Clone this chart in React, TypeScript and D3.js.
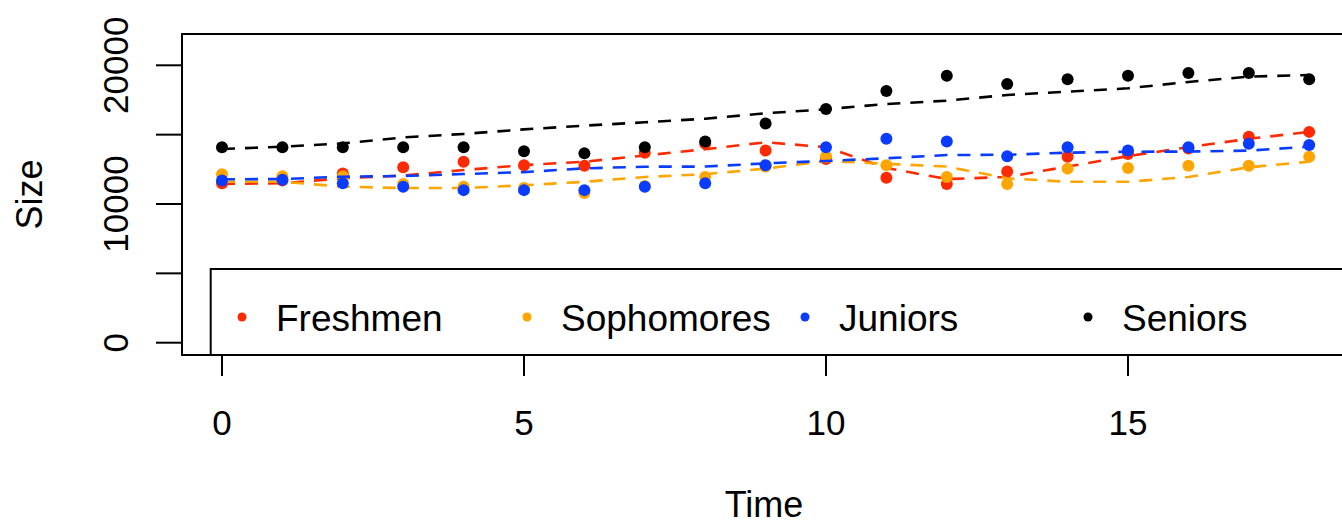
import React from "react";
import * as d3 from "d3";

// values
const time = [0, 1, 2, 3, 4, 5, 6, 7, 8, 9, 10, 11, 12, 13, 14, 15, 16, 17, 18];

const freshmen = [11500, 11700, 12200, 12650, 13050, 12800, 12750, 13700, 14350, 13850, 13250, 11900, 11450, 12350, 13400, 13600, 14000, 14850, 15200];
const sophomores = [12150, 12000, 12000, 11450, 11250, 11150, 10800, 11300, 11950, 12700, 13450, 12800, 11950, 11450, 12550, 12600, 12750, 12750, 13400];
const juniors = [11700, 11750, 11500, 11250, 11000, 11000, 11000, 11250, 11500, 12800, 14100, 14700, 14500, 13450, 14100, 13850, 14100, 14350, 14250];
const seniors = [14100, 14100, 14100, 14100, 14100, 13800, 13650, 14100, 14500, 15800, 16850, 18150, 19250, 18650, 19000, 19250, 19450, 19450, 19000];

// fitted (dashed) lines
const freshmenFit = [11450, 11500, 11850, 12050, 12450, 12800, 13050, 13500, 13950, 14450, 14100, 12600, 11800, 11950, 12700, 13450, 14100, 14700, 15200];
const sophomoresFit = [11600, 11600, 11250, 11150, 11150, 11350, 11600, 11950, 12150, 12550, 13100, 12900, 12700, 11850, 11600, 11600, 11950, 12650, 13050];
const juniorsFit = [11780, 11800, 11970, 12020, 12160, 12300, 12570, 12690, 12700, 12930, 13100, 13300, 13530, 13550, 13700, 13770, 13780, 13850, 14130];
const seniorsFit = [13970, 14130, 14370, 14800, 15050, 15380, 15650, 15890, 16150, 16540, 16830, 17210, 17450, 17860, 18100, 18340, 18800, 19180, 19300];

const seriesNames = ["Freshmen", "Sophomores", "Juniors", "Seniors"];
const seriesColors = ["#ff2a00", "#ffa500", "#0a3cff", "#000000"];

const xTicks = [0, 5, 10, 15];
const yTicks = [0, 5000, 10000, 15000, 20000];
const yTickLabels = ["0", "", "10000", "", "20000"];

const width = 1342;
const height = 525;
const box = { left: 182, top: 34, right: 1346, bottom: 355 };
const font = "'Liberation Sans', Arial, sans-serif";

export default function App() {
  const x = d3.scaleLinear().domain([0, 18]).range([222, 1309.2]);
  const y = d3.scaleLinear().domain([0, 20000]).range([342.7, 65.3]);

  const points = [freshmen, sophomores, juniors, seniors];
  const fits = [freshmenFit, sophomoresFit, juniorsFit, seniorsFit];

  const line = d3
    .line<number>()
    .x((_, i) => x(time[i]))
    .y((d) => y(d));

  // legend item x positions (dot, text)
  const legendDotX = [242, 527, 805, 1088];

  return (
    <svg
      width={width}
      height={height}
      style={{ position: "absolute", left: 0, top: 0, background: "#fff" }}
      fontFamily={font}
    >
      {/* series */}
      {points.map((vals, s) => (
        <g key={seriesNames[s]}>
          {vals.map((v, i) => (
            <circle key={i} cx={x(time[i])} cy={y(v)} r={6} fill={seriesColors[s]} />
          ))}
          <path
            d={line(fits[s]) || ""}
            fill="none"
            stroke={seriesColors[s]}
            strokeWidth={2.6}
            strokeDasharray="13 10"
          />
        </g>
      ))}

      {/* legend */}
      <rect
        x={210.7}
        y={269}
        width={box.right - 210.7}
        height={box.bottom - 269}
        fill="#fff"
        stroke="#000"
        strokeWidth={2}
      />
      {seriesNames.map((name, i) => (
        <g key={name}>
          <circle cx={legendDotX[i]} cy={317} r={4.5} fill={seriesColors[i]} />
          <text x={legendDotX[i] + 34} y={331} fontSize={37} fill="#000">
            {name}
          </text>
        </g>
      ))}

      {/* plot box */}
      <rect
        x={box.left}
        y={box.top}
        width={box.right - box.left}
        height={box.bottom - box.top}
        fill="none"
        stroke="#000"
        strokeWidth={2}
      />

      {/* x axis */}
      {xTicks.map((t) => (
        <g key={t}>
          <line x1={x(t)} x2={x(t)} y1={box.bottom} y2={376} stroke="#000" strokeWidth={2} />
          <text x={x(t)} y={435} fontSize={35} textAnchor="middle" fill="#000">
            {t}
          </text>
        </g>
      ))}
      <text x={764} y={517} fontSize={36} textAnchor="middle" fill="#000">
        Time
      </text>

      {/* y axis */}
      {yTicks.map((v, i) => (
        <g key={v}>
          <line x1={156} x2={box.left} y1={y(v)} y2={y(v)} stroke="#000" strokeWidth={2} />
          {yTickLabels[i] && (
            <text
              transform={`translate(128,${y(v)}) rotate(-90)`}
              fontSize={35}
              textAnchor="middle"
              fill="#000"
            >
              {yTickLabels[i]}
            </text>
          )}
        </g>
      ))}
      <text
        transform={`translate(42,${(box.top + box.bottom) / 2}) rotate(-90)`}
        fontSize={36}
        textAnchor="middle"
        fill="#000"
      >
        Size
      </text>
    </svg>
  );
}
